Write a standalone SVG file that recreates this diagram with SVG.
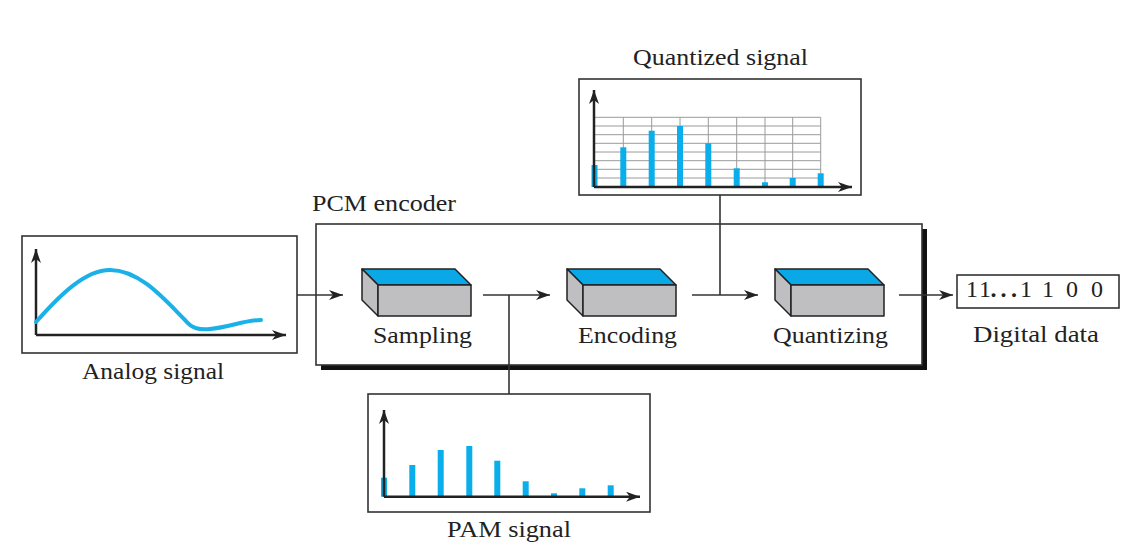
<svg xmlns="http://www.w3.org/2000/svg" width="1145" height="548" viewBox="0 0 1145 548" font-family="'Liberation Serif', 'Times New Roman', serif">
<defs>
<style>
text{font-family:'Liberation Serif','Times New Roman',serif;fill:#222;font-size:24px}
.frame{fill:#fff;stroke:#333;stroke-width:1.6}
.axis{fill:none;stroke:#222;stroke-width:2.5}
.conn{fill:none;stroke:#333;stroke-width:1.6}
.bar{fill:#0aaeea}
.grid{stroke:#9a9a9a;stroke-width:1;fill:none}
.top{fill:#0aa8e6;stroke:#222;stroke-width:1.5;stroke-linejoin:round}
.side{fill:#bfbfc1;stroke:#222;stroke-width:1.5;stroke-linejoin:round}
</style>
<marker id="arr" markerUnits="userSpaceOnUse" markerWidth="15" markerHeight="11" refX="14" refY="5" orient="auto">
<path d="M0,0 L14,5 L0,10 L4,5 z" fill="#222"/>
</marker>
<marker id="ax" markerUnits="userSpaceOnUse" markerWidth="15" markerHeight="11" refX="14" refY="5" orient="auto">
<path d="M0,0 L14,5 L0,10 L4,5 z" fill="#222"/>
</marker>
<g id="box3d">
<path class="top" d="M0,0 H93 L109,16 H16 Z"/>
<path class="side" d="M0,0 L16,16 V47 L0,31 Z"/>
<rect class="side" x="16" y="16" width="93" height="31"/>
</g>
</defs>
<rect width="1145" height="548" fill="#fff"/>

<g id="pcm-encoder">
<rect x="321" y="229" width="606" height="141" fill="#111"/>
<rect class="frame" x="316" y="224" width="606" height="141"/>
<text x="312" y="211" textLength="144" lengthAdjust="spacingAndGlyphs">PCM encoder</text>
</g>

<g id="analog-signal">
<rect class="frame" x="22" y="236" width="275" height="117"/>
<path class="axis" d="M36,335 V249" marker-end="url(#ax)"/>
<path class="axis" d="M36,335 H286" marker-end="url(#ax)"/>
<path d="M36,322 C60,295 85,270 110,270 C140,270 165,300 185,320 C192,329 200,330 210,329 C230,327 245,320 261,320" fill="none" stroke="#1ab0e8" stroke-width="4" stroke-linecap="round"/>
<text x="82" y="379" textLength="142" lengthAdjust="spacingAndGlyphs">Analog signal</text>
</g>

<g id="sampling">
<use href="#box3d" x="362" y="269"/>
<text x="373" y="343" textLength="99" lengthAdjust="spacingAndGlyphs">Sampling</text>
</g>

<g id="encoding">
<use href="#box3d" x="567" y="269"/>
<text x="578" y="343" textLength="99" lengthAdjust="spacingAndGlyphs">Encoding</text>
</g>

<g id="quantizing">
<use href="#box3d" x="775" y="269"/>
<text x="773" y="343" textLength="115" lengthAdjust="spacingAndGlyphs">Quantizing</text>
</g>

<g id="digital-data">
<rect class="frame" x="957" y="275" width="162" height="33"/>
<text x="966 979" y="297" font-size="22">11</text>
<text x="990.5 1000.5 1011" y="296.5" font-size="36" font-weight="bold">...</text>
<text x="1020 1042 1066 1091" y="297" font-size="22">1100</text>
<text x="973" y="342" textLength="126" lengthAdjust="spacingAndGlyphs">Digital data</text>
</g>

<g id="quantized-signal">
<text x="633" y="65" textLength="175" lengthAdjust="spacingAndGlyphs">Quantized signal</text>
<rect class="frame" x="579" y="79" width="282" height="116"/>
<g class="grid">
<path d="M594,117.3 H820.7 M594,126 H820.7 M594,134.7 H820.7 M594,143.3 H820.7 M594,152 H820.7 M594,160.7 H820.7 M594,169.3 H820.7 M594,178 H820.7"/>
<path d="M623.3,117.3 V187 M651.7,117.3 V187 M680,117.3 V187 M708.3,117.3 V187 M736.7,117.3 V187 M765,117.3 V187 M792.7,117.3 V187 M820.7,117.3 V187"/>
</g>
<rect class="bar" x="591.5" y="165" width="6" height="22"/>
<rect class="bar" x="620.3" y="147.3" width="6" height="39.7"/>
<rect class="bar" x="648.7" y="130.7" width="6" height="56.3"/>
<rect class="bar" x="677" y="126" width="6" height="61"/>
<rect class="bar" x="705.3" y="143.3" width="6" height="43.7"/>
<rect class="bar" x="733.7" y="168.3" width="6" height="18.7"/>
<rect class="bar" x="762" y="182.3" width="6" height="4.7"/>
<rect class="bar" x="789.7" y="178" width="6" height="9"/>
<rect class="bar" x="817.7" y="173.3" width="6" height="13.7"/>
<path class="axis" d="M594,187 V90" marker-end="url(#ax)"/>
<path class="axis" d="M594,187 H852" marker-end="url(#ax)"/>
</g>

<g id="pam-signal">
<rect class="frame" x="368" y="394" width="282" height="118"/>
<rect class="bar" x="381" y="477.7" width="6" height="19"/>
<rect class="bar" x="409.3" y="465" width="6" height="31.7"/>
<rect class="bar" x="437.7" y="450" width="6" height="46.7"/>
<rect class="bar" x="466.3" y="446" width="6" height="50.7"/>
<rect class="bar" x="494.3" y="460.7" width="6" height="36"/>
<rect class="bar" x="522.7" y="481.3" width="6" height="15.4"/>
<rect class="bar" x="551" y="493.3" width="6" height="3.4"/>
<rect class="bar" x="579.3" y="488.3" width="6" height="8.4"/>
<rect class="bar" x="607.7" y="485.3" width="6" height="11.4"/>
<path class="axis" d="M384,496.7 V410" marker-end="url(#ax)"/>
<path class="axis" d="M384,496.7 H640" marker-end="url(#ax)"/>
<text x="447" y="537" textLength="124" lengthAdjust="spacingAndGlyphs">PAM signal</text>
</g>

<g id="connectors">
<path class="conn" d="M297,295 H343" marker-end="url(#arr)"/>
<path class="conn" d="M483,295 H550" marker-end="url(#arr)"/>
<path class="conn" d="M509,295 V394"/>
<path class="conn" d="M692,295 H758" marker-end="url(#arr)"/>
<path class="conn" d="M720,195 V295"/>
<path class="conn" d="M899,295 H953" marker-end="url(#arr)"/>
</g>
</svg>
